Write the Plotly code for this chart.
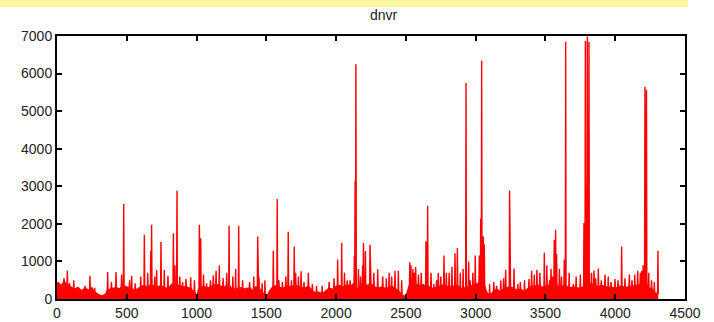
import plotly.graph_objects as go

# ---- data ----
band_step = 25  # sampling step of the dense low-level band (x units)
band = [
    420, 360, 450, 380, 320,
    260, 300, 220, 280, 240, 300, 180, 110,
    80, 140, 250, 280,
    300, 260, 340, 320,
    280, 240, 260, 320,
    360, 300, 380, 340,
    320, 360, 300, 280,
    400, 380, 340, 320,
    330, 280, 200, 40,
    300, 340, 280, 320,
    360, 380, 340, 320,
    360, 280, 220, 310,
    280, 260, 300, 220,
    320, 280, 200, 40,
    220, 330, 360, 300,
    280, 340, 310, 360,
    330, 320, 280, 340,
    210, 170, 180, 140,
    210, 280, 260, 340,
    360, 330, 380, 340,
    410, 280, 340, 380,
    360, 400, 340, 280,
    320, 280, 300, 340,
    280, 210, 110, 60,
    380, 340, 400, 360,
    380, 340, 300, 260,
    320, 340, 380, 330,
    320, 360, 340, 280,
    300, 340, 360, 380,
    430, 360, 210, 80,
    210, 260, 180, 280,
    300, 320, 280, 220,
    260, 200, 280, 340,
    320, 360, 300, 340,
    380, 400, 360, 320,
    340, 360, 280, 320,
    300, 280, 340, 380,
    400, 340, 320, 360,
    340, 300, 320, 280,
    320, 340, 300, 330,
    320, 360, 380, 420,
    400, 280, 170, 140,
]

# tall and medium spikes (x, value)
spike_x = [10, 30, 50, 74, 90, 150, 236, 363, 423, 463, 478, 535, 560, 626, 672, 678,
           714, 745, 769, 795, 834, 845, 860, 880, 900, 924, 958, 1020, 1030, 1072,
           1120, 1163, 1190, 1216, 1233, 1302, 1359, 1438, 1447, 1470, 1550, 1578,
           1590, 1615, 1657, 1700, 1710, 1749, 1801, 1830, 1985, 2011, 2040, 2080,
           2100, 2131, 2136, 2142, 2175, 2196, 2210, 2243, 2298, 2334, 2398, 2422,
           2446, 2528, 2536, 2560, 2590, 2644, 2656, 2700, 2732, 2773, 2790, 2852,
           2869, 2931, 2960, 2997, 3026, 3036, 3043, 3055, 3062, 3150, 3215, 3243,
           3275, 3302, 3382, 3401, 3439, 3492, 3530, 3550, 3563, 3573, 3580, 3635,
           3645, 3700, 3776, 3786, 3793, 3800, 3806, 3812, 3848, 3879, 3927, 3998,
           4046, 4101, 4161, 4180, 4213, 4224, 4240, 4306]
spike_y = [450, 380, 550, 750, 420, 300, 620, 720, 720, 650, 2530, 620, 420, 1710, 1280, 1975,
           770, 1515, 770, 620, 1750, 900, 2880, 600, 450, 530, 580, 1975, 1620, 420,
           630, 890, 560, 700, 1950, 1950, 300, 1665, 580, 420, 1285, 2660,
           500, 450, 1790, 1400, 700, 740, 700, 400, 550, 1050, 1490, 500,
           500, 1150, 3150, 6250, 600, 1490, 1280, 1445, 790, 600, 600, 750,
           750, 980, 900, 700, 650, 1540, 2480, 400, 700, 1160, 700, 1215,
           1355, 5750, 500, 1160, 1160, 2150, 6350, 1660, 1450, 350, 780, 2880,
           810, 400, 530, 750, 780, 1230, 500, 600, 1580, 1840, 1200, 1050,
           6850, 400, 2020, 6870, 3000, 6990, 2500, 6840, 760, 810, 650, 530,
           1400, 650, 750, 700, 5650, 5560, 700, 1285]

minor_x = [120, 200, 270, 390, 520, 600, 650, 700, 985, 1050, 1100, 1140, 1260, 1280,
           1330, 1380, 1410, 1490, 1640, 1680, 1730, 1770, 1860, 1900, 1950, 2060,
           2160, 2190, 2270, 2360, 2380, 2470, 2550, 2570, 2610, 2680, 2720, 2750,
           2810, 2830, 2890, 2910, 2950, 2980, 3100, 3130, 3180, 3200, 3320, 3350,
           3420, 3460, 3510, 3540, 3600, 3615, 3670, 3720, 3750, 3830, 3860, 3900,
           3950, 3970, 4020, 4070, 4120, 4140, 4190, 4200, 4260, 4280]
minor_y = [500, 350, 300, 450, 500, 600, 700, 600, 500, 650, 500, 750, 600, 800,
           500, 450, 600, 500, 600, 500, 600, 450, 350, 350, 450, 700,
           800, 900, 700, 550, 700, 500, 800, 850, 700, 700, 500, 600,
           700, 850, 700, 800, 1000, 700, 400, 450, 500, 550, 450, 500,
           650, 700, 900, 800, 800, 600, 700, 600, 650, 700, 550, 500,
           600, 450, 500, 550, 500, 650, 750, 900, 500, 450]

# ---- build the series ----
all_sx = spike_x + minor_x
all_sy = spike_y + minor_y
band_x = [i * band_step for i in range(len(band))]
pts = []
for bx, by in zip(band_x, band):
    if all(abs(bx - sx) > 5 for sx in all_sx):
        pts.append((bx, by))


def band_at(x):
    i = min(range(len(band_x)), key=lambda k: abs(band_x[k] - x))
    return band[i]


for sx, sy in zip(all_sx, all_sy):
    b = band_at(sx)
    pts.append((sx - 2.5, b))
    pts.append((sx, sy))
    pts.append((sx + 2.5, b))
pts.sort(key=lambda p: p[0])
xs = [p[0] for p in pts]
ys = [p[1] for p in pts]

fig = go.Figure()
fig.add_trace(go.Scatter(
    x=xs, y=ys, mode="lines",
    line=dict(color="#ff0000", width=1.4),
    fill="tozeroy", fillcolor="#ff0000",
    hoverinfo="skip", showlegend=False,
))

axis_common = dict(
    showline=True, linecolor="black", linewidth=2, mirror="ticks",
    ticks="inside", ticklen=5, tickwidth=2, tickcolor="black",
    showgrid=False, zeroline=False, automargin=False,
    tickfont=dict(family="Liberation Sans, Arial, sans-serif", size=14, color="#222"),
)

fig.update_layout(
    width=714, height=322,
    margin=dict(l=57, r=29, t=36, b=23, autoexpand=False),
    paper_bgcolor="white", plot_bgcolor="white",
    hovermode=False,
    title=dict(text="dnvr", x=0.52, xref="paper", y=1 - 15 / 322, yanchor="middle",
               font=dict(family="Liberation Sans, Arial, sans-serif", size=14, color="#222")),
    xaxis=dict(range=[0, 4500], tickvals=list(range(0, 4501, 500)), **axis_common),
    yaxis=dict(range=[0, 7000], tickvals=list(range(0, 7001, 1000)), **axis_common),
    shapes=[dict(type="rect", xref="paper", yref="paper",
                 x0=-0.0908, x1=1.0048, y0=1.110, y1=1.14,
                 fillcolor="#fbf8a0", line=dict(width=0), layer="below")],
)

fig.write_html("out.html",
               config={"displayModeBar": False, "staticPlot": True},
               post_script="document.body.style.margin='0';document.body.style.overflow='hidden';")
